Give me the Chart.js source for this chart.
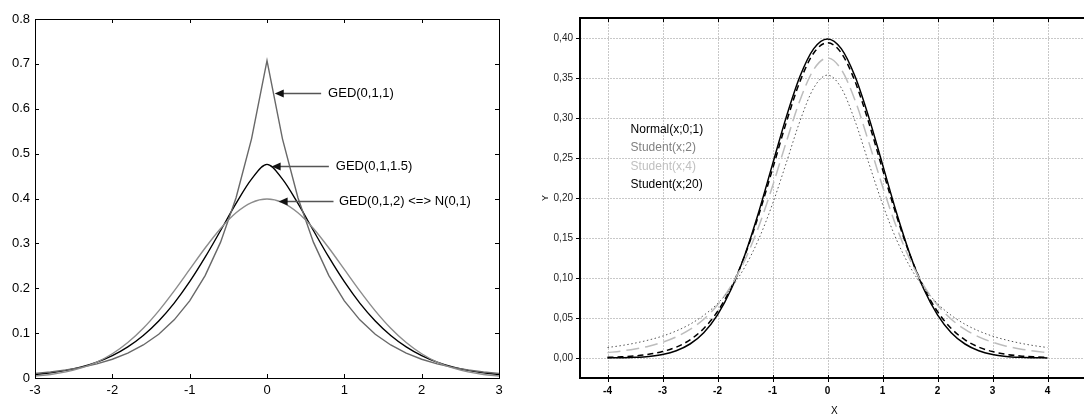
<!DOCTYPE html>
<html>
<head>
<meta charset="utf-8">
<script src="https://cdn.jsdelivr.net/npm/chart.js@4.4.1/dist/chart.umd.min.js"></script>
<style>
  html, body { margin:0; padding:0; background:#fff; overflow:hidden; width:1084px; height:414px; }
  canvas { position:absolute; top:0; }
  #left { left:0; }
  #right { left:540px; }
</style>
</head>
<body>
<canvas id="left" width="540" height="414"></canvas>
<canvas id="right" width="560" height="420"></canvas>
<script>
// ---------- Left chart data (GED densities) ----------
const gedX = [-3,-2.8,-2.6,-2.4,-2.2,-2,-1.8,-1.6,-1.4,-1.2,-1,-0.8,-0.6,-0.4,-0.2,0,0.2,0.4,0.6,0.8,1,1.2,1.4,1.6,1.8,2,2.2,2.4,2.6,2.8,3];
const ged1 = [0.0102,0.0135,0.0179,0.0237,0.0315,0.0418,0.0555,0.0736,0.0976,0.1296,0.1719,0.2281,0.3027,0.4016,0.5329,0.7071,0.5329,0.4016,0.3027,0.2281,0.1719,0.1296,0.0976,0.0736,0.0555,0.0418,0.0315,0.0237,0.0179,0.0135,0.0102];
const ged15 = [0.0076,0.0114,0.0169,0.0246,0.0354,0.0500,0.0695,0.0949,0.1272,0.1670,0.2146,0.2692,0.3287,0.3891,0.4432,0.4760,0.4432,0.3891,0.3287,0.2692,0.2146,0.1670,0.1272,0.0949,0.0695,0.0500,0.0354,0.0246,0.0169,0.0114,0.0076];
const ged2 = [0.0044,0.0079,0.0136,0.0224,0.0355,0.0540,0.0790,0.1109,0.1497,0.1942,0.2420,0.2897,0.3332,0.3683,0.3910,0.3989,0.3910,0.3683,0.3332,0.2897,0.2420,0.1942,0.1497,0.1109,0.0790,0.0540,0.0355,0.0224,0.0136,0.0079,0.0044];
const leftXTicks = [-3,-2,-1,0,1,2,3];
const leftYTicks = [0,0.1,0.2,0.3,0.4,0.5,0.6,0.7,0.8];
const gedLabels = ['GED(0,1,1)','GED(0,1,1.5)','GED(0,1,2) <=> N(0,1)'];
const gedArrowTipX = [0.10, 0.06, 0.15];
const gedArrowTailX = [0.70, 0.80, 0.86];
const gedTextX = [0.79, 0.89, 0.93];
const gedArrowY = [0.635, 0.4735, 0.3935];

// ---------- Right chart data (Normal vs Student t) ----------
const tX = [-4,-3.75,-3.5,-3.25,-3,-2.75,-2.5,-2.25,-2,-1.75,-1.5,-1.25,-1,-0.75,-0.5,-0.25,0,0.25,0.5,0.75,1,1.25,1.5,1.75,2,2.25,2.5,2.75,3,3.25,3.5,3.75,4];
const normal01 = [0.0001,0.0004,0.0009,0.0020,0.0044,0.0091,0.0175,0.0317,0.0540,0.0863,0.1295,0.1826,0.2420,0.3011,0.3521,0.3867,0.3989,0.3867,0.3521,0.3011,0.2420,0.1826,0.1295,0.0863,0.0540,0.0317,0.0175,0.0091,0.0044,0.0020,0.0009,0.0004,0.0001];
const student2 = [0.0131,0.0155,0.0186,0.0225,0.0274,0.0338,0.0422,0.0533,0.0680,0.0878,0.1141,0.1487,0.1925,0.2438,0.2963,0.3376,0.3536,0.3376,0.2963,0.2438,0.1925,0.1487,0.1141,0.0878,0.0680,0.0533,0.0422,0.0338,0.0274,0.0225,0.0186,0.0155,0.0131];
const student4 = [0.0067,0.0087,0.0113,0.0148,0.0197,0.0264,0.0357,0.0485,0.0663,0.0905,0.1229,0.1644,0.2147,0.2699,0.3223,0.3607,0.3750,0.3607,0.3223,0.2699,0.2147,0.1644,0.1229,0.0905,0.0663,0.0485,0.0357,0.0264,0.0197,0.0148,0.0113,0.0087,0.0067];
const student20 = [0.0008,0.0015,0.0026,0.0046,0.0080,0.0136,0.0227,0.0369,0.0581,0.0883,0.1286,0.1788,0.2360,0.2944,0.3458,0.3813,0.3940,0.3813,0.3458,0.2944,0.2360,0.1788,0.1286,0.0883,0.0581,0.0369,0.0227,0.0136,0.0080,0.0046,0.0026,0.0015,0.0008];
const rightXTicks = [-4,-3,-2,-1,0,1,2,3,4];
const rightYTicks = [0,0.05,0.10,0.15,0.20,0.25,0.30,0.35,0.40];
const tLegend = ['Normal(x;0;1)','Student(x;2)','Student(x;4)','Student(x;20)'];
const tLegendX = -3.58;
const tLegendY = [0.286, 0.2625, 0.2388, 0.2168];

const pts = (xs, ys) => xs.map((x, i) => ({x, y: ys[i]}));
const FONT = 'Arial, "Liberation Sans", Helvetica, sans-serif';

// ---------- Left chart ----------
const leftFrame = {
  id: 'leftFrame',
  afterDraw(chart) {
    const {ctx, chartArea: a, scales: {x, y}} = chart;
    ctx.save();
    ctx.strokeStyle = '#000';
    ctx.lineWidth = 1;
    ctx.strokeRect(Math.round(a.left) + 0.5, Math.round(a.top) + 0.5, Math.round(a.right - a.left), Math.round(a.bottom - a.top));
    ctx.beginPath();
    leftXTicks.forEach(v => {
      const px = Math.round(x.getPixelForValue(v)) + 0.5;
      ctx.moveTo(px, a.bottom); ctx.lineTo(px, a.bottom - 4);
      ctx.moveTo(px, a.top); ctx.lineTo(px, a.top + 4);
    });
    leftYTicks.forEach(v => {
      const py = Math.round(y.getPixelForValue(v)) + 0.5;
      ctx.moveTo(a.left, py); ctx.lineTo(a.left + 4, py);
      ctx.moveTo(a.right, py); ctx.lineTo(a.right - 4, py);
    });
    ctx.stroke();
    // annotations
    ctx.font = '13px ' + FONT;
    ctx.textBaseline = 'middle';
    ctx.textAlign = 'left';
    gedLabels.forEach((lab, i) => {
      const py = Math.round(y.getPixelForValue(gedArrowY[i])) + 0.5;
      const tip = x.getPixelForValue(gedArrowTipX[i]);
      const tail = x.getPixelForValue(gedArrowTailX[i]);
      ctx.strokeStyle = '#555';
      ctx.lineWidth = 1.3;
      ctx.beginPath();
      ctx.moveTo(tail, py); ctx.lineTo(tip + 6, py);
      ctx.stroke();
      ctx.fillStyle = '#111';
      ctx.beginPath();
      ctx.moveTo(tip, py); ctx.lineTo(tip + 9, py - 4); ctx.lineTo(tip + 9, py + 4); ctx.closePath();
      ctx.fill();
      ctx.fillStyle = '#000';
      ctx.fillText(lab, x.getPixelForValue(gedTextX[i]), py);
    });
    ctx.restore();
  }
};

new Chart(document.getElementById('left'), {
  type: 'line',
  data: {
    datasets: [
      { label: gedLabels[2], data: pts(gedX, ged2), borderColor: '#8c8c8c', borderWidth: 1.4, cubicInterpolationMode: 'monotone' },
      { label: gedLabels[0], data: pts(gedX, ged1), borderColor: '#686868', borderWidth: 1.4, tension: 0 },
      { label: gedLabels[1], data: pts(gedX, ged15), borderColor: '#000', borderWidth: 1.4, cubicInterpolationMode: 'monotone' }
    ]
  },
  options: {
    responsive: false,
    animation: false,
    events: [],
    layout: { padding: { top: 19, right: 41, left: 0, bottom: 0 } },
    elements: { point: { radius: 0 } },
    plugins: { legend: { display: false }, tooltip: { enabled: false } },
    scales: {
      x: {
        type: 'linear', min: -3, max: 3,
        afterBuildTicks: s => { s.ticks = leftXTicks.map(v => ({value: v})); },
        afterFit: s => { s.height = 36; },
        grid: { display: false, drawTicks: false },
        border: { display: false },
        ticks: { padding: 5, color: '#000', font: { family: FONT, size: 13 }, maxRotation: 0, autoSkip: false, callback: v => String(v) }
      },
      y: {
        type: 'linear', min: 0, max: 0.8,
        afterBuildTicks: s => { s.ticks = leftYTicks.map(v => ({value: v})); },
        afterFit: s => { s.width = 35; },
        grid: { display: false, drawTicks: false },
        border: { display: false },
        ticks: { padding: 5, color: '#000', font: { family: FONT, size: 13 }, autoSkip: false, callback: v => v === 0 ? '0' : v.toFixed(1) }
      }
    }
  },
  plugins: [leftFrame]
});

// ---------- Right chart ----------
const rightDeco = {
  id: 'rightDeco',
  beforeDatasetsDraw(chart) {
    const {ctx, chartArea: a, scales: {x, y}} = chart;
    ctx.save();
    ctx.strokeStyle = '#c8c8c8';
    ctx.lineWidth = 1;
    ctx.setLineDash([2, 1]);
    ctx.beginPath();
    rightXTicks.forEach(v => {
      const px = Math.round(x.getPixelForValue(v)) + 0.5;
      ctx.moveTo(px, a.top); ctx.lineTo(px, a.bottom);
    });
    rightYTicks.forEach(v => {
      const py = Math.round(y.getPixelForValue(v)) + 0.5;
      ctx.moveTo(a.left, py); ctx.lineTo(a.right, py);
    });
    ctx.stroke();
    ctx.restore();
  },
  afterDraw(chart) {
    const {ctx, chartArea: a, scales: {x, y}} = chart;
    ctx.save();
    ctx.strokeStyle = '#000';
    ctx.lineWidth = 2;
    ctx.beginPath();
    ctx.moveTo(a.left, a.top); ctx.lineTo(a.right + 20, a.top);
    ctx.moveTo(a.left, a.top - 1); ctx.lineTo(a.left, a.bottom + 1);
    ctx.moveTo(a.left - 1, a.bottom); ctx.lineTo(a.right + 20, a.bottom);
    ctx.stroke();
    ctx.lineWidth = 1;
    ctx.beginPath();
    rightXTicks.forEach(v => {
      const px = Math.round(x.getPixelForValue(v)) + 0.5;
      ctx.moveTo(px, a.bottom - 3); ctx.lineTo(px, a.bottom + 4);
      ctx.moveTo(px, a.top); ctx.lineTo(px, a.top + 4);
    });
    rightYTicks.forEach(v => {
      const py = Math.round(y.getPixelForValue(v)) + 0.5;
      ctx.moveTo(a.left - 4, py); ctx.lineTo(a.left, py);
    });
    ctx.stroke();
    // legend text
    const cols = ['#000', '#808080', '#c0c0c0', '#000'];
    ctx.font = '12px ' + FONT;
    ctx.textBaseline = 'middle';
    ctx.textAlign = 'left';
    tLegend.forEach((t, i) => {
      ctx.fillStyle = cols[i];
      ctx.fillText(t, x.getPixelForValue(tLegendX), y.getPixelForValue(tLegendY[i]));
    });
    ctx.restore();
  }
};

new Chart(document.getElementById('right'), {
  type: 'line',
  data: {
    datasets: [
      { label: tLegend[1], data: pts(tX, student2), borderColor: '#555', borderWidth: 1, borderDash: [1.5, 2.5], cubicInterpolationMode: 'monotone' },
      { label: tLegend[2], data: pts(tX, student4), borderColor: '#bdbdbd', borderWidth: 1.5, borderDash: [13, 6], cubicInterpolationMode: 'monotone' },
      { label: tLegend[3], data: pts(tX, student20), borderColor: '#000', borderWidth: 1.5, borderDash: [6, 4], cubicInterpolationMode: 'monotone' },
      { label: tLegend[0], data: pts(tX, normal01), borderColor: '#000', borderWidth: 1.5, cubicInterpolationMode: 'monotone' }
    ]
  },
  options: {
    responsive: false,
    animation: false,
    events: [],
    layout: { padding: { top: 18, right: 11.25, left: 0, bottom: 0 } },
    elements: { point: { radius: 0 } },
    plugins: { legend: { display: false }, tooltip: { enabled: false } },
    scales: {
      x: {
        type: 'linear', min: -4.5, max: 4.75,
        afterBuildTicks: s => { s.ticks = rightXTicks.map(v => ({value: v})); },
        afterFit: s => { s.height = 42; },
        grid: { display: false, drawTicks: false },
        border: { display: false },
        title: { display: true, text: 'X', color: '#000', font: { family: FONT, size: 10 }, padding: { top: 0, bottom: 3 } },
        ticks: { padding: 7, color: '#000', font: { family: FONT, size: 10, weight: 'bold' }, maxRotation: 0, autoSkip: false, callback: v => String(v) }
      },
      y: {
        type: 'linear', min: -0.025, max: 0.425,
        afterBuildTicks: s => { s.ticks = rightYTicks.map(v => ({value: v})); },
        afterFit: s => { s.width = 40; },
        grid: { display: false, drawTicks: false },
        border: { display: false },
        title: { display: true, text: 'Y', color: '#000', font: { family: FONT, size: 9 }, padding: { top: 0, bottom: 0 } },
        ticks: { padding: 7, color: '#222', font: { family: FONT, size: 10 }, autoSkip: false, callback: v => v.toFixed(2).replace('.', ',') }
      }
    }
  },
  plugins: [rightDeco]
});
</script>
</body>
</html>
